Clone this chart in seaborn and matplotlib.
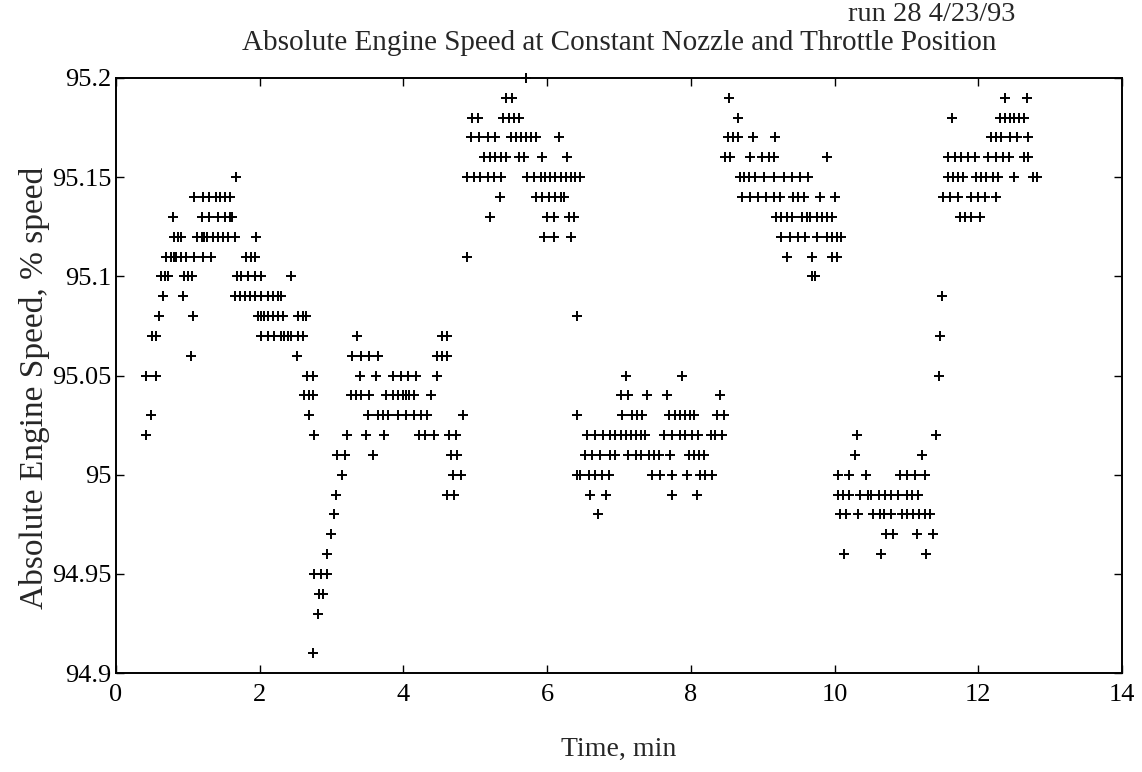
import numpy as np
import pandas as pd
import matplotlib
matplotlib.use('Agg')
import matplotlib.pyplot as plt
import seaborn as sns

# ==========================================
# Data: time (min) of each logged sample, grouped by speed level (% speed)
# ==========================================
t_9520 = [5.70]
t_9519 = [5.42, 5.51, 8.53, 12.37, 12.67]
t_9518 = [4.96, 5.03, 5.38, 5.47, 5.54, 5.61, 8.65, 11.63, 12.30, 12.37, 12.44, 12.50, 12.57, 12.64]
t_9517 = [4.94, 5.05, 5.17, 5.28, 5.49, 5.56, 5.63, 5.70, 5.77, 5.84, 6.16, 8.52, 8.59, 8.66, 8.86, 9.17,
          12.17, 12.25, 12.32, 12.44, 12.54, 12.69]
t_9516 = [5.12, 5.21, 5.28, 5.35, 5.42, 5.61, 5.68, 5.93, 6.27, 8.47, 8.55, 8.82, 8.99, 9.08, 9.15, 9.89,
          11.58, 11.67, 11.76, 11.86, 11.95, 12.13, 12.25, 12.34, 12.43, 12.64, 12.69]
t_9515 = [1.67, 4.89, 4.98, 5.07, 5.17, 5.26, 5.35, 5.72, 5.81, 5.91, 5.97, 6.04, 6.11, 6.19, 6.26, 6.33,
          6.39, 6.46, 8.68, 8.74, 8.81, 8.89, 9.01, 9.15, 9.29, 9.40, 9.52, 9.63, 11.58, 11.65, 11.72,
          11.79, 11.97, 12.04, 12.11, 12.21, 12.27, 12.50, 12.76, 12.81]
t_9514 = [1.09, 1.21, 1.30, 1.39, 1.44, 1.51, 1.58, 5.34, 5.84, 5.93, 6.02, 6.11, 6.19, 6.23, 8.71, 8.82,
          8.94, 9.05, 9.15, 9.24, 9.42, 9.49, 9.58, 9.80, 10.00, 11.51, 11.60, 11.72, 11.90, 11.99, 12.09, 12.25]
t_9513 = [0.79, 1.19, 1.30, 1.42, 1.51, 1.58, 1.61, 5.21, 6.00, 6.09, 6.30, 6.37, 9.19, 9.26, 9.33, 9.40,
          9.54, 9.61, 9.66, 9.75, 9.82, 9.89, 9.96, 11.74, 11.81, 11.90, 12.02]
t_9512 = [0.81, 0.86, 0.90, 1.12, 1.19, 1.22, 1.26, 1.35, 1.42, 1.49, 1.56, 1.65, 1.95, 5.95, 6.09, 6.33,
          9.26, 9.38, 9.49, 9.59, 9.75, 9.89, 9.96, 10.03, 10.09]
t_9511 = [0.70, 0.77, 0.81, 0.84, 0.91, 0.98, 1.09, 1.21, 1.32, 1.81, 1.88, 1.93, 4.88, 9.33, 9.68, 9.96, 10.03]
t_9510 = [0.62, 0.68, 0.72, 0.94, 1.00, 1.06, 1.69, 1.74, 1.83, 1.93, 2.02, 2.43, 9.68, 9.72]
t_9509 = [0.65, 0.93, 1.65, 1.72, 1.79, 1.86, 1.93, 2.02, 2.11, 2.18, 2.25, 2.30, 11.50]
t_9508 = [0.60, 1.07, 1.97, 2.02, 2.06, 2.11, 2.18, 2.25, 2.32, 2.53, 2.60, 2.64, 6.41]
t_9507 = [0.50, 0.56, 2.02, 2.11, 2.20, 2.30, 2.34, 2.39, 2.44, 2.53, 2.60, 3.36, 4.54, 4.60, 11.47]
t_9506 = [1.05, 2.52, 3.29, 3.41, 3.52, 3.64, 4.47, 4.53, 4.60]
t_9505 = [0.42, 0.55, 2.66, 2.74, 3.40, 3.62, 3.85, 3.96, 4.06, 4.17, 4.46, 7.09, 7.88, 11.45]
t_9504 = [2.62, 2.68, 2.74, 3.27, 3.34, 3.41, 3.52, 3.75, 3.85, 3.92, 3.99, 4.03, 4.08, 4.15, 4.38,
          7.02, 7.12, 7.39, 7.67, 8.41]
t_9503 = [0.49, 2.69, 3.50, 3.64, 3.71, 3.78, 3.92, 4.03, 4.15, 4.24, 4.33, 4.83, 6.42, 7.04, 7.18, 7.25,
          7.32, 7.69, 7.78, 7.85, 7.92, 7.99, 8.04, 8.36, 8.46]
t_9502 = [0.42, 2.76, 3.21, 3.48, 3.73, 4.22, 4.30, 4.43, 4.63, 4.73, 6.56, 6.67, 6.78, 6.88, 6.95, 7.02,
          7.09, 7.16, 7.23, 7.30, 7.36, 7.62, 7.73, 7.85, 7.92, 8.01, 8.10, 8.28, 8.34, 8.43, 10.31, 11.41]
t_9501 = [3.07, 3.18, 3.57, 4.66, 4.75, 6.53, 6.62, 6.74, 6.88, 6.95, 7.13, 7.23, 7.30, 7.41, 7.48, 7.55,
          7.71, 7.97, 8.04, 8.11, 8.18, 10.28, 11.22]
t_9500 = [3.15, 4.69, 4.80, 6.42, 6.46, 6.58, 6.67, 6.76, 6.86, 7.46, 7.57, 7.74, 7.94, 8.13, 8.20, 8.29,
          10.04, 10.20, 10.44, 10.91, 11.00, 11.12, 11.25]
t_9499 = [3.06, 4.60, 4.70, 6.60, 6.82, 7.74, 8.08, 10.04, 10.12, 10.20, 10.35, 10.47, 10.51, 10.61,
          10.70, 10.79, 10.88, 11.00, 11.07, 11.16]
t_9498 = [3.04, 6.70, 10.07, 10.16, 10.33, 10.54, 10.63, 10.69, 10.78, 10.93, 11.00, 11.09, 11.18, 11.26, 11.33]
t_9497 = [2.99, 10.72, 10.81, 11.14, 11.37]
t_9496 = [2.94, 10.13, 10.64, 11.27]
t_9495 = [2.76, 2.85, 2.94]
t_9494 = [2.83, 2.88]
t_9493 = [2.81]
t_9491 = [2.74]

speed_levels = [95.20, 95.19, 95.18, 95.17, 95.16, 95.15, 95.14, 95.13, 95.12, 95.11, 95.10, 95.09,
                95.08, 95.07, 95.06, 95.05, 95.04, 95.03, 95.02, 95.01, 95.00, 94.99, 94.98, 94.97,
                94.96, 94.95, 94.94, 94.93, 94.91]
level_times = [t_9520, t_9519, t_9518, t_9517, t_9516, t_9515, t_9514, t_9513, t_9512, t_9511, t_9510,
               t_9509, t_9508, t_9507, t_9506, t_9505, t_9504, t_9503, t_9502, t_9501, t_9500, t_9499,
               t_9498, t_9497, t_9496, t_9495, t_9494, t_9493, t_9491]

x_ticks = [0, 2, 4, 6, 8, 10, 12, 14]
y_ticks = [94.9, 94.95, 95.0, 95.05, 95.1, 95.15, 95.2]
y_tick_labels = ['94.9', '94.95', '95', '95.05', '95.1', '95.15', '95.2']

rows = []
for lvl, times in zip(speed_levels, level_times):
    for t in times:
        rows.append((t, lvl))
df = pd.DataFrame(rows, columns=['time', 'speed'])

# ==========================================
# Plot
# ==========================================
sns.set_style('ticks')
plt.rcParams['font.family'] = ['Liberation Serif', 'DejaVu Serif']
plt.rcParams['axes.linewidth'] = 1.4

fig = plt.figure(figsize=(11.42, 7.72), dpi=100)
ax = fig.add_axes([0.1016, 0.128, 0.881, 0.771])

sns.scatterplot(data=df, x='time', y='speed', marker='+', color='black', s=60, linewidth=1.4,
                ax=ax, clip_on=False, legend=False)

ax.set_xlim(0, 14)
ax.set_ylim(94.9, 95.2)
ax.set_xticks(x_ticks)
ax.set_xticklabels([str(v) for v in x_ticks])
ax.set_yticks(y_ticks)
ax.set_yticklabels(y_tick_labels)
ax.tick_params(direction='in', top=True, right=True, length=6, width=1, labelsize=19, pad=3, colors='black')
ax.tick_params(axis='x', pad=8)
for s in ax.spines.values():
    s.set_visible(True)
    s.set_color('black')

ax.set_xlabel('Time, min', fontsize=20, labelpad=22)
ax.set_ylabel('Absolute Engine Speed, % speed', fontsize=24)
ax.yaxis.set_label_coords(-0.066, 0.48)
ax.set_title('Absolute Engine Speed at Constant Nozzle and Throttle Position', fontsize=21, pad=20)
fig.text(0.889, 0.981, 'run 28 4/23/93', fontsize=20.5, ha='right', va='center')

fig.savefig('out.png', dpi=100)
